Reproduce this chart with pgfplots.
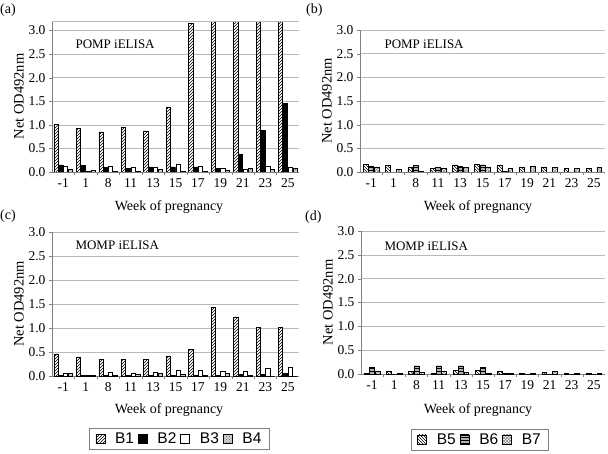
\documentclass[border=0pt]{standalone}
\usepackage{fontspec}
\setmainfont{Liberation Serif}
\newfontfamily\legfont{Liberation Sans}
\usepackage{pgfplots}
\usepackage{pgfplotstable}
\pgfplotsset{compat=1.18}
\usetikzlibrary{patterns}

\pgfplotstableread{
x  b1   b2   b3   b4
0  1.01 0.15 0.13 0.05
1  0.93 0.14 0.01 0.04
2  0.85 0.10 0.13 0.02
3  0.94 0.08 0.11 0.02
4  0.87 0.11 0.11 0.05
5  1.38 0.11 0.16 0.02
6  3.15 0.11 0.12 0.01
7  3.20 0.08 0.08 0.04
8  3.20 0.37 0.06 0.07
9  3.20 0.89 0.12 0.06
10 3.19 1.45 0.10 0.09
}\tableA

\pgfplotstableread{
x  b5   b6   b7
0  0.16 0.13 0.11
1  0.14 0.00 0.05
2  0.11 0.14 0.02
3  0.08 0.11 0.07
4  0.15 0.12 0.10
5  0.16 0.15 0.11
6  0.14 0.02 0.07
7  0.11 0.00 0.13
8  0.11 0.00 0.09
9  0.07 0.00 0.08
10 0.08 0.00 0.10
}\tableB

\pgfplotstableread{
x  b1   b2   b3   b4
0  0.46 0.02 0.06 0.06
1  0.40 0.02 0.02 0.01
2  0.35 0.01 0.08 0.02
3  0.35 0.01 0.06 0.04
4  0.35 0.01 0.08 0.05
5  0.42 0.02 0.12 0.04
6  0.56 0.02 0.11 0.02
7  1.43 0.01 0.10 0.05
8  1.23 0.04 0.10 0.02
9  1.02 0.03 0.17 0.00
10 1.02 0.05 0.18 0.00
}\tableC

\pgfplotstableread{
x  b5   b6   b7
0  0.02 0.15 0.06
1  0.06 0.00 0.02
2  0.06 0.17 0.03
3  0.02 0.17 0.05
4  0.07 0.17 0.04
5  0.07 0.14 0.01
6  0.06 0.01 0.01
7  0.02 0.00 0.02
8  0.03 0.00 0.05
9  0.02 0.00 0.01
10 0.01 0.00 0.01
}\tableD

\pgfplotsset{
  panel/.style={
    scale only axis, anchor=south west,
    xmin=-0.5, xmax=10.5, ymin=0,
    axis x line*=bottom, axis y line*=left,
    axis line style={gray, line width=0.6pt},
    xtick={0,...,10},
    xticklabels={-1,1,8,11,13,15,17,19,21,23,25},
    major x tick style={draw=none},
    minor xtick={0.5,1.5,...,9.5},
    minor x tick style={gray},
    major y tick style={gray},
    tick align=outside,
    major tick length=3pt, minor tick length=3pt,
    ytick={0,0.5,...,3},
    ymajorgrids, grid style={gray!55, line width=0.6pt},
    yticklabel style={/pgf/number format/.cd, fixed, fixed zerofill, precision=1, assume math mode=true},
    tick label style={font=\fontsize{13.5}{15}\selectfont},
    ylabel={Net OD492nm},
    ylabel style={font=\fontsize{14.5}{16}\selectfont, yshift=-2pt},
    every axis plot/.append style={draw=black, line width=0.5pt},
  },
  legimg/.style={
    legend image code/.code={\draw[##1, line width=0.5pt] (0pt,-4.5pt) rectangle (9pt,4.5pt);},
  },
  four/.style={ybar=0.6pt, bar width=4.2pt, legimg},
  three/.style={ybar=0.6pt, bar width=4.8pt, legimg},
  sB1/.style={fill=white, postaction={pattern=north east lines}},
  sB2/.style={fill=black},
  sB3/.style={fill=white},
  sB4/.style={fill=gray!35, postaction={pattern=crosshatch dots, pattern color=gray!80!black}},
  sB5/.style={fill=white, postaction={pattern=north west lines}},
  sB6/.style={fill=gray!60, postaction={pattern=horizontal lines}},
  sB7/.style={fill=white, postaction={pattern=crosshatch, pattern color=gray}},
  legbox/.style={anchor=center, draw=gray, line width=0.6pt,
    font=\legfont\fontsize{15.5}{17}\selectfont, inner xsep=6pt, inner ysep=2.5pt,
    /tikz/every even column/.append style={column sep=2pt},
    /tikz/every odd column/.append style={column sep=8pt}},
}

\begin{document}
\begin{tikzpicture}
\useasboundingbox (0pt,0pt) rectangle (608pt,453pt);

% (a)
\begin{axis}[panel, four, at={(52pt,281pt)}, width=247pt, height=151pt, ymax=3.2]
  \addplot[sB1] table[x=x,y=b1]{\tableA};
  \addplot[sB2] table[x=x,y=b2]{\tableA};
  \addplot[sB3] table[x=x,y=b3]{\tableA};
  \addplot[sB4] table[x=x,y=b4]{\tableA};
  \draw[gray!55, line width=0.6pt] (rel axis cs:0,1) -- (rel axis cs:1,1);
\end{axis}

% (b)
\begin{axis}[panel, three, at={(360pt,281pt)}, width=245pt, height=142pt, ymax=3.0]
  \addplot[sB5] table[x=x,y=b5]{\tableB};
  \addplot[sB6] table[x=x,y=b6]{\tableB};
  \addplot[sB7] table[x=x,y=b7]{\tableB};
\end{axis}

% (c)
\begin{axis}[panel, four, at={(52pt,77pt)}, width=247pt, height=144pt, ymax=3.0,
  legend columns=4,
  legend style={legbox, at={(0.516,-0.4375)}},
  legend cell align=left]
  \addplot[sB1] table[x=x,y=b1]{\tableC};
  \addplot[sB2] table[x=x,y=b2]{\tableC};
  \addplot[sB3] table[x=x,y=b3]{\tableC};
  \addplot[sB4] table[x=x,y=b4]{\tableC};
  \legend{B1,B2,B3,B4}
\end{axis}

% (d)
\begin{axis}[panel, three, at={(361pt,79pt)}, width=244pt, height=143pt, ymax=3.0,
  legend columns=3,
  legend style={legbox, at={(0.488,-0.458)}},
  legend cell align=left]
  \addplot[sB5] table[x=x,y=b5]{\tableD};
  \addplot[sB6] table[x=x,y=b6]{\tableD};
  \addplot[sB7] table[x=x,y=b7]{\tableD};
  \legend{B5,B6,B7}
\end{axis}

\begin{scope}[font=\fontsize{13}{15}\selectfont]
\node[anchor=west] at (72pt,409pt) {POMP iELISA};
\node[anchor=west] at (381pt,409pt) {POMP iELISA};
\node[anchor=west] at (72pt,208pt) {MOMP iELISA};
\node[anchor=west] at (381pt,207pt) {MOMP iELISA};
\end{scope}
\begin{scope}[font=\fontsize{14}{16}\selectfont]
\node at (169pt,246pt) {Week of pregnancy};
\node at (478pt,246pt) {Week of pregnancy};
\node at (169pt,43pt) {Week of pregnancy};
\node at (478pt,43pt) {Week of pregnancy};
\node[anchor=west, inner sep=0pt] at (0pt,443pt) {(a)};
\node[anchor=west, inner sep=0pt] at (306pt,443pt) {(b)};
\node[anchor=west, inner sep=0pt] at (0pt,237pt) {(c)};
\node[anchor=west, inner sep=0pt] at (305pt,236pt) {(d)};
\end{scope}
\end{tikzpicture}
\end{document}
